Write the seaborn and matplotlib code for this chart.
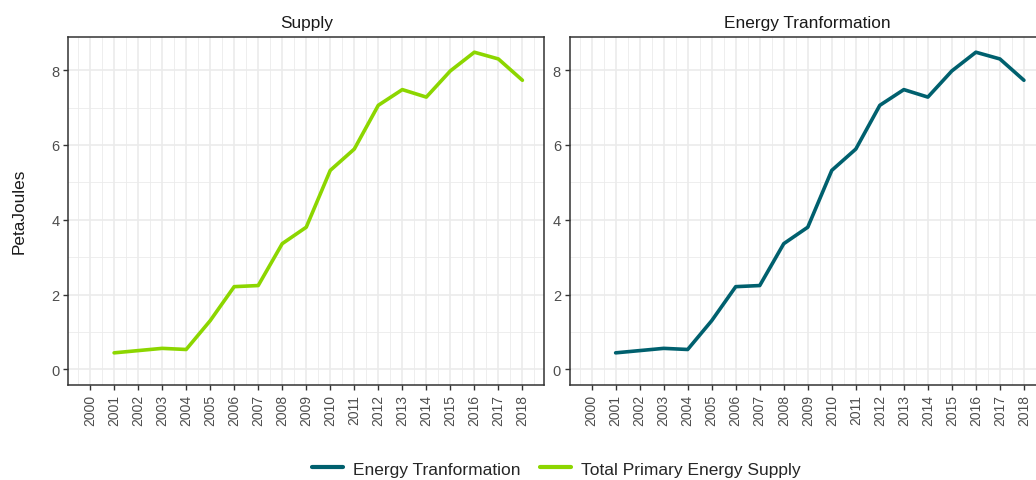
import numpy as np
import pandas as pd
import matplotlib
matplotlib.use("Agg")
import matplotlib.pyplot as plt
from matplotlib.lines import Line2D
from matplotlib.ticker import MultipleLocator
import seaborn as sns

# Annual energy figures, PetaJoules
years = list(range(2001, 2019))
total_primary_supply = [0.44, 0.50, 0.56, 0.53, 1.30, 2.21, 2.24, 3.36, 3.80,
                        5.32, 5.89, 7.06, 7.48, 7.28, 7.98, 8.48, 8.30, 7.73]
energy_transformation = [0.44, 0.50, 0.56, 0.53, 1.30, 2.21, 2.24, 3.36, 3.80,
                         5.32, 5.89, 7.06, 7.48, 7.28, 7.98, 8.48, 8.30, 7.73]
panel_titles = ["Supply", "Energy Tranformation"]
series_names = ["Energy Tranformation", "Total Primary Energy Supply"]
year_ticks = list(range(2000, 2019))

palette = {"Energy Tranformation": "#00606E",
           "Total Primary Energy Supply": "#8CD600"}

df = pd.concat([
    pd.DataFrame({"year": years, "value": total_primary_supply,
                  "series": "Total Primary Energy Supply", "panel": "Supply"}),
    pd.DataFrame({"year": years, "value": energy_transformation,
                  "series": "Energy Tranformation", "panel": "Energy Tranformation"}),
])

sns.set_theme(style="white")
plt.rcParams["font.family"] = ["Liberation Sans", "DejaVu Sans"]

fig = plt.figure(figsize=(10.36, 4.81), dpi=100)
ax_left = fig.add_axes([0.0661, 0.1975, 0.459, 0.7245])
ax_right = fig.add_axes([0.5502, 0.1975, 0.459, 0.7245])

for ax, title in zip([ax_left, ax_right], panel_titles):
    sub = df[df["panel"] == title]
    sns.lineplot(data=sub, x="year", y="value", hue="series", palette=palette,
                 linewidth=2.6, legend=False, ax=ax, zorder=3)
    ax.set_xlim(1999.1, 2018.9)
    ax.set_ylim(-0.42, 8.9)
    ax.set_xticks(year_ticks)
    ax.set_xticklabels([str(y) for y in year_ticks], rotation=90,
                       fontsize=10, color="#4d4d4d")
    ax.xaxis.set_minor_locator(MultipleLocator(0.5))
    ax.set_yticks([0, 2, 4, 6, 8])
    ax.set_yticklabels(["0", "2", "4", "6", "8"], fontsize=10.5, color="#4d4d4d")
    ax.yaxis.set_minor_locator(MultipleLocator(1))
    ax.grid(which="major", color="#ebebeb", linewidth=1.2, zorder=0)
    ax.grid(which="minor", color="#ebebeb", linewidth=0.6, zorder=0)
    ax.set_axisbelow(True)
    ax.tick_params(axis="both", which="major", length=3.5, width=1.0,
                   color="#333333", direction="out", pad=3)
    ax.tick_params(axis="both", which="minor", length=0)
    ax.tick_params(axis="x", bottom=True)
    ax.tick_params(axis="y", left=True)
    for sp in ax.spines.values():
        sp.set_visible(True)
        sp.set_color("#333333")
        sp.set_linewidth(1.1)
    ax.set_title(title, fontsize=12.4, color="#1a1a1a", pad=7)
    ax.set_xlabel("")
    ax.set_ylabel("")

fig.text(0.018, 0.5612, "PetaJoules", rotation=90, ha="center", va="center",
         fontsize=12.4, color="#1a1a1a")

handles = [Line2D([0], [0], color=palette[n], linewidth=3) for n in series_names]
fig.legend(handles, series_names, loc="center", bbox_to_anchor=(0.537, 0.023),
           ncol=2, frameon=False, fontsize=12.5, handlelength=1.8,
           handletextpad=0.6, columnspacing=1.1, borderaxespad=0)

fig.savefig("out.png", dpi=100)
